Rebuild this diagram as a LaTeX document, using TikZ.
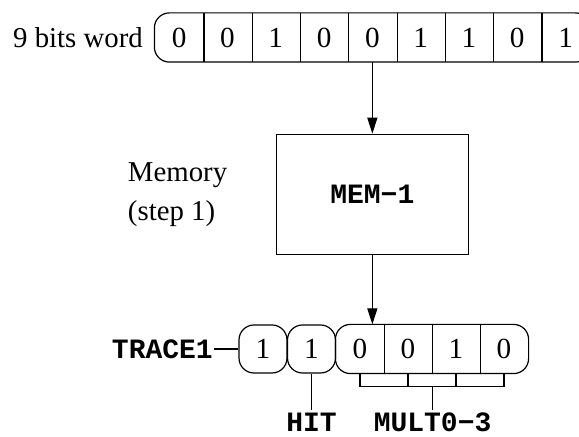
\documentclass[tikz,border=0pt]{standalone}
\usepackage{fontspec}
\setmainfont{Liberation Serif}
\setmonofont{Liberation Mono}
\usetikzlibrary{positioning,arrows.meta}

\begin{document}
\begin{tikzpicture}[x=0.5pt,y=-0.5pt,line width=0.6pt,
    bitcell/.style={minimum width=24pt,minimum height=24pt,inner sep=0pt,
      font=\fontsize{14.6}{17}\selectfont},
    roundbit/.style={bitcell,draw,rounded corners=7.5pt},
    lbl/.style={inner sep=0.5pt,font=\fontsize{14.4}{19.5}\selectfont},
    sig/.style={inner sep=0.5pt,font=\fontsize{14}{16}\selectfont\ttfamily\bfseries},
    flow/.style={-{Triangle[length=8pt,width=5pt]}}]
  \useasboundingbox (0,0) rectangle (579,437);
  \clip (0,0) rectangle (579,437);

  % input word
  \foreach \b [count=\i from 0] in {0,0,1,0,0,1,1,0,1}
    \node[bitcell,minimum width=24.15pt] (w\i) at ({179.15+48.3*\i},37.5) {\b};
  \draw[rounded corners=7.5pt] (w0.north west) rectangle (w8.south east);
  \foreach \i in {0,...,7}
    \draw (w\i.north east) -- (w\i.south east);
  \node[lbl,left=5pt of w0] (word) {9 bits word};

  % memory
  \node[draw,minimum width=96pt,minimum height=60pt,font=\fontsize{14}{16}\selectfont\ttfamily\bfseries,
    below=35.8pt of w4] (mem) {MEM−1};
  \node[lbl,align=left,left=23.5pt of mem] (memlbl) {Memory\\(step 1)};
  \draw[flow] (w4) -- (mem);

  % output trace
  \node[roundbit] (t0) at (263,349) {1};
  \node[roundbit] (t1) at (311.5,349) {1};
  \foreach \b [count=\i from 0] in {0,0,1,0}
    \node[bitcell] (m\i) at ({360+48*\i},349) {\b};
  \draw[rounded corners=7.5pt] (m0.north west) rectangle (m3.south east);
  \foreach \i in {0,1,2}
    \draw (m\i.north east) -- (m\i.south east);
  \draw[flow] (mem.south) -- (mem.south |- m0.north);

  \node[sig,left=12pt of t0] (trace) {TRACE1};
  \draw (trace) -- (t0);
  \node[sig,inner ysep=1.5pt,below=18pt of t1] (hit) {HIT};
  \draw (t1) -- (hit);
  \draw (m0.south) -- ++(0,13) -| (m3.south);
  \draw (m1.south) -- ++(0,13) (m2.south) -- ++(0,13);
  \node[sig,inner ysep=1.5pt,below=18pt of m1.south east] (multo) {MULT0−3};
  \draw (m1.south east) ++(0,13) -- (multo);
\end{tikzpicture}
\end{document}
